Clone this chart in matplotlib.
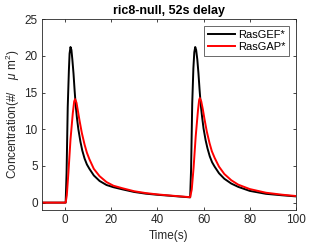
import matplotlib
matplotlib.use("Agg")
import matplotlib.pyplot as plt

plt.rcParams['font.family'] = ['Liberation Sans', 'DejaVu Sans']
plt.rcParams['mathtext.fontset'] = 'custom'
plt.rcParams['mathtext.rm'] = 'Liberation Sans'
plt.rcParams['mathtext.it'] = 'Liberation Sans:italic'

# RasGEF* (black)
gef_t = [-10, 0.3, 0.7, 1.2, 1.7, 2.0, 2.4, 2.8, 3.2, 3.7, 4.2, 4.7, 5.2, 5.8, 6.7, 7.5, 8.5,
         9.5, 10.6, 12.5, 15, 18, 21, 25, 30, 35, 40, 45, 50, 54.2,
         54.6, 55.1, 55.6, 56.0, 56.4, 56.8, 57.3, 57.8, 58.3, 58.8, 59.4, 60.0, 60.9, 61.7,
         62.7, 63.7, 64.8, 66.7, 69, 72, 75, 80, 87, 94, 100]
gef_v = [0, 0, 4, 13, 18, 20.3, 21.2, 20.8, 19.5, 17.6, 15.2, 13.1, 11.5, 10.0, 8.3, 7.1, 6.0,
         5.2, 4.6, 3.7, 2.95, 2.4, 2.1, 1.8, 1.45, 1.22, 1.07, 0.95, 0.82, 0.72,
         4.5, 13.5, 18.3, 20.5, 21.2, 20.8, 19.5, 17.6, 15.3, 13.3, 11.6, 10.1, 8.5, 7.4,
         6.3, 5.5, 4.9, 4.0, 3.25, 2.6, 2.15, 1.6, 1.2, 1.0, 0.85]

# RasGAP* (red)
gap_t = [-10, 0.3, 0.8, 1.5, 2.4, 3.4, 4.0, 4.4, 5.0, 5.6, 6.3, 7.3, 8.5, 9.5, 10.6, 12.5,
         15, 18, 21, 25, 30, 35, 40, 45, 50, 54.2,
         54.9, 55.7, 56.6, 57.6, 58.1, 58.4, 59.0, 59.7, 60.4, 61.4, 62.6, 63.6, 64.8, 66.7,
         69, 72, 75, 80, 87, 94, 100]
gap_v = [0, 0, 1.0, 4.1, 8.6, 12.2, 13.8, 14.1, 13.6, 12.5, 11.2, 9.5, 7.9, 6.8, 5.9, 4.6,
         3.6, 2.8, 2.3, 1.95, 1.55, 1.3, 1.12, 0.98, 0.85, 0.74,
         1.8, 4.8, 9.0, 12.6, 14.0, 14.25, 13.8, 12.7, 11.4, 9.7, 8.1, 7.0, 6.1, 4.9,
         3.9, 3.05, 2.45, 1.85, 1.35, 1.08, 0.9]

x_ticks = [0, 20, 40, 60, 80, 100]
y_ticks = [0, 5, 10, 15, 20, 25]

fig = plt.figure(figsize=(3.27, 2.45), dpi=100)
ax = fig.add_axes([0.128, 0.143, 0.777, 0.779])
ax.plot(gef_t, gef_v, color='black', lw=1.4, label='RasGEF*')
ax.plot(gap_t, gap_v, color='#ff0000', lw=1.4, label='RasGAP*')
ax.set_xlim(-10, 100)
ax.set_ylim(-1, 25)
ax.set_xticks(x_ticks)
ax.set_yticks(y_ticks)
ax.tick_params(direction='in', length=2.5, width=0.6, labelsize=8.5, colors='#262626',
               top=True, right=True, pad=3)
for s in ax.spines.values():
    s.set_linewidth(0.6)
    s.set_color('#262626')
ax.set_title('ric8-null, 52s delay', fontsize=9, fontweight='bold', pad=4)
ax.set_xlabel('Time(s)', fontsize=8.5, color='#262626', labelpad=3)
ax.set_ylabel(r'Concentration(#/    $\mu$ m$^2$)', fontsize=8.5, color='#262626', labelpad=2)
leg = ax.legend(loc='upper right', fontsize=8, frameon=True, fancybox=False,
                handlelength=2.4, handletextpad=0.3, borderpad=0.35, labelspacing=0.2,
                borderaxespad=0.6)
leg.get_frame().set_edgecolor('#262626')
leg.get_frame().set_linewidth(0.6)
fig.savefig('out.png', dpi=100)
